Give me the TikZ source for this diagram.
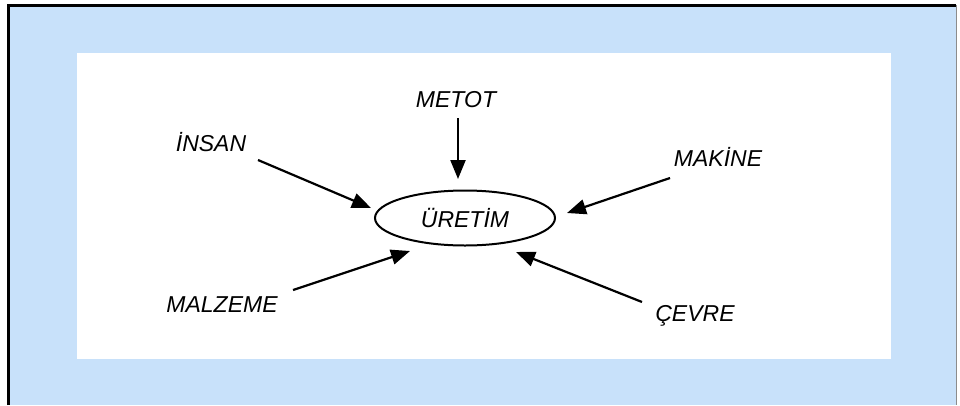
\documentclass[tikz,border=0pt]{standalone}
\usepackage{fontspec}
\setmainfont{Liberation Sans}
\usetikzlibrary{arrows.meta,shapes.geometric}
\definecolor{panelblue}{RGB}{200,225,250}
\tikzset{
  lbl/.style={font=\fontsize{23}{27}\selectfont\itshape, inner sep=0pt, anchor=center},
  arr/.style={line width=2.2pt, -{Triangle[length=19pt,width=15pt]}},
}
\begin{document}
\begin{tikzpicture}[x=1pt,y=-1pt]
\useasboundingbox (0,0) rectangle (960,405);
% panels
\fill[panelblue] (7,5) rectangle (956,405);
\fill[white] (77,53) rectangle (891,359);
\draw[black!45, line width=0.8pt] (956,5) -- (956,405);
\draw[black, line width=3pt] (8.5,405) -- (8.5,5.5) -- (956,5.5);
% central ellipse
\node[ellipse, draw, line width=2pt, minimum width=180pt, minimum height=55pt, inner sep=0pt,
      font=\fontsize{23}{27}\selectfont\itshape] (u) at (465,218) {ÜRETİM};
% labels
\node[lbl] (metot) at (456,100) {METOT};
\node[lbl] (insan) at (211,142) {İNSAN};
\node[lbl] (makine) at (718,157) {MAKİNE};
\node[lbl] (malzeme) at (222,305) {MALZEME};
\node[lbl] (cevre) at (695,316) {ÇEVRE};
% arrow end points
\coordinate (metotS) at (458,118);
\coordinate (metotT) at (458,179);
\coordinate (insanS) at (258,160);
\coordinate (insanT) at (371,208);
\coordinate (makineS) at (670,178);
\coordinate (makineT) at (567,213);
\coordinate (malzemeS) at (293,290);
\coordinate (malzemeT) at (410,251);
\coordinate (cevreS) at (642,302);
\coordinate (cevreT) at (516,252);
% arrows
\draw[arr] (metotS) -- (metotT);
\draw[arr] (insanS) -- (insanT);
\draw[arr] (makineS) -- (makineT);
\draw[arr] (malzemeS) -- (malzemeT);
\draw[arr] (cevreS) -- (cevreT);
\end{tikzpicture}
\end{document}
